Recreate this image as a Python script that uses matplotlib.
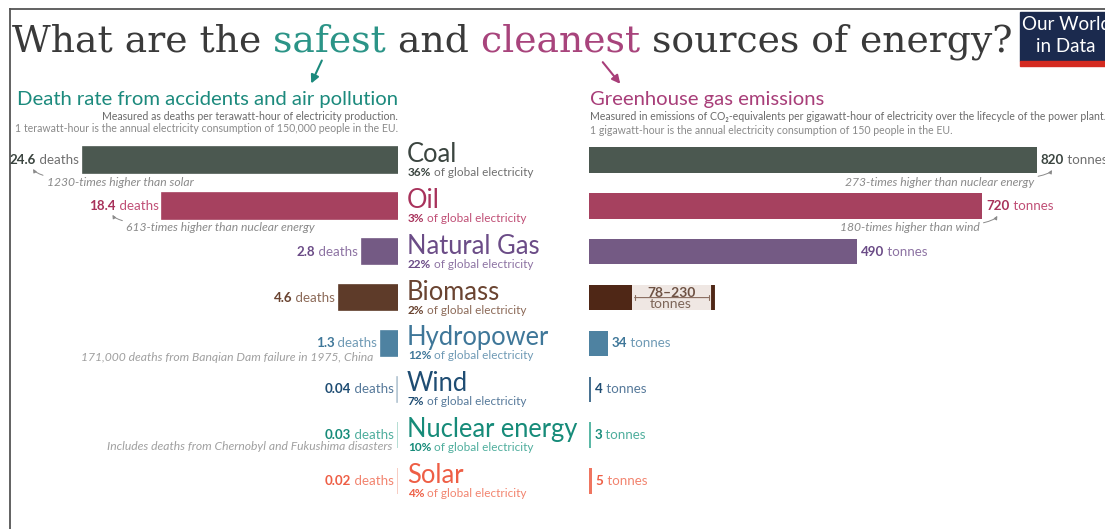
import matplotlib
matplotlib.use("Agg")
import matplotlib.pyplot as plt
import matplotlib.transforms as mtransforms
from matplotlib.patches import Rectangle

plt.rcParams['font.family'] = ['Lato', 'DejaVu Sans']

W, H = 1105, 529

# Energy sources, top to bottom
sources = ["Coal", "Oil", "Natural Gas", "Biomass", "Hydropower", "Wind", "Nuclear energy", "Solar"]
# Deaths per TWh of electricity
death_rates = [24.6, 18.4, 2.8, 4.6, 1.3, 0.04, 0.03, 0.02]
# Lifecycle emissions, tonnes CO2-eq per GWh (biomass shown as a range)
emissions = [820, 720, 490, 78, 34, 4, 3, 5]
biomass_range = [78, 230]
share_of_electricity = ["36%", "3%", "22%", "2%", "12%", "7%", "10%", "4%"]

death_notes = {0: "1230-times higher than solar",
               1: "613-times higher than nuclear energy",
               4: "171,000 deaths from Banqian Dam failure in 1975, China",
               6: "Includes deaths from Chernobyl and Fukushima disasters"}
note_offsets = {4: (-8, 14), 6: (-5, 11)}
emission_notes = {0: "273-times higher than nuclear energy",
                  1: "180-times higher than wind"}

# colours: bar fill, label text, lighter tint for unit words
bar_left = ["#4b5850", "#a6415f", "#745a84", "#5e3b29", "#4e82a1", "#b9c9d5", "#a8d8cc", "#f6c3b8"]
bar_right = ["#4b5850", "#a6415f", "#745a84", "#4f2716", "#4e82a1", "#4a7392", "#5bb8a6", "#ef7560"]
text_dark = ["#3b4540", "#a8325b", "#6b4c87", "#6a4431", "#3f7799", "#1f4d73", "#168b79", "#ee5e45"]
text_light = ["#6f6f6f", "#c04f76", "#8d73a3", "#8c6a58", "#6f9ab5", "#56799a", "#4fae9d", "#f2846f"]

teal = "#1c8a7d"
magenta = "#a83e79"
grey = "#8a8a8a"


def px(ax, dx=0, dy=0):
    # data coordinates shifted by a number of pixels (dy positive = down)
    return ax.transData + mtransforms.Affine2D().translate(dx, -dy)


fig = plt.figure(figsize=(W / 100, H / 100), dpi=100)
fig.patch.set_facecolor("white")

canvas = fig.add_axes([0, 0, 1, 1])
canvas.set_xlim(0, W)
canvas.set_ylim(H, 0)
canvas.axis("off")

# row centres fall at 160 px + 45.86 px per row
row_px = 45.86
ylim = ((H - 160) / row_px, -160 / row_px)
bar_h = 25.5 / row_px
rows = list(range(len(sources)))

# left panel: deaths, bars grow leftwards from x=398 px, 12.8 px per death
ax_l = fig.add_axes([10 / W, 0, (398 - 10) / W, 1])
ax_l.set_xlim((398 - 10) / 12.8, 0)
ax_l.set_ylim(*ylim)
ax_l.axis("off")
ax_l.patch.set_alpha(0)

# right panel: emissions, bars grow rightwards from x=589 px, 0.5463 px per tonne
ax_r = fig.add_axes([589 / W, 0, (W - 589) / W, 1])
ax_r.set_xlim(0, (W - 589) / 0.5463)
ax_r.set_ylim(*ylim)
ax_r.axis("off")
ax_r.patch.set_alpha(0)

ax_l.barh(rows, death_rates, height=bar_h, color=bar_left, edgecolor=bar_left, linewidth=1.2)

# biomass range box
lo, hi = biomass_range
ax_r.barh(3, hi - lo, left=lo, height=bar_h, color="#efe7e3", linewidth=0)
ax_r.plot([hi, hi], [3 - bar_h / 2, 3 + bar_h / 2], color="#4f2716", lw=2.8,
          solid_capstyle="butt", transform=px(ax_r, -2, 0))
ax_r.barh(rows, emissions, height=bar_h, color=bar_right, linewidth=0)
ax_r.annotate("", xy=(hi, 3), xytext=(lo, 3), xycoords=px(ax_r, -6, 0), textcoords=px(ax_r, 3, 0),
              arrowprops=dict(arrowstyle="|-|", color="#8a6e60", lw=0.8, mutation_scale=2,
                              shrinkA=0, shrinkB=0))
mid = (lo + hi) / 2
ax_r.text(mid, 3, f"{lo}–{hi}", transform=px(ax_r, -2, 1), ha="center", va="bottom",
          fontsize=10, fontweight="bold", color="#6e5244")
ax_r.text(mid, 3, "tonnes", transform=px(ax_r, -2, 0), ha="center", va="top",
          fontsize=10, color="#7d6558")

for i, name in enumerate(sources):
    v = death_rates[i]
    unit = ax_l.text(v, i, " deaths", transform=px(ax_l, -4, 0), ha="right", va="center",
                     fontsize=9.6, color=text_light[i])
    ax_l.annotate(f"{v:g}", xy=(0, 0.5), xycoords=unit, ha="right", va="center",
                  fontsize=9.6, fontweight="bold", color=text_dark[i])

    # source name and share of electricity between the panels
    ax_l.text(0, i, name, transform=px(ax_l, 9, 2), ha="left", va="baseline",
              fontsize=18.4, color=text_dark[i])
    pct = ax_l.text(0, i, share_of_electricity[i], transform=px(ax_l, 10, 16), ha="left",
                    va="baseline", fontsize=8.5, fontweight="bold", color=text_dark[i])
    ax_l.annotate(" of global electricity", xy=(1, 0), xycoords=pct, ha="left", va="bottom",
                  fontsize=8.5, color=text_light[i])

    if i != 3:
        e = emissions[i]
        num = ax_r.text(e, i, f"{e}", transform=px(ax_r, 4, 0), ha="left", va="center",
                        fontsize=9.6, fontweight="bold", color=text_dark[i])
        ax_r.annotate(" tonnes", xy=(1, 0.5), xycoords=num, ha="left", va="center",
                      fontsize=9.6, color=text_light[i])

# notes under the bars
for i, note in death_notes.items():
    v = death_rates[i]
    if i < 2:
        ax_l.annotate(note, xy=(v, i), xycoords=px(ax_l, -50, 9), xytext=(v, i),
                      textcoords=px(ax_l, -36, 22), ha="left", va="center", fontsize=8.7,
                      style="italic", color=grey,
                      arrowprops=dict(arrowstyle="-|>", color=grey, lw=0.7, mutation_scale=5,
                                      shrinkA=1, shrinkB=0,
                                      connectionstyle="angle3,angleA=0,angleB=-60"))
    else:
        dx, dy = note_offsets[i]
        ax_l.text(v, i, note, transform=px(ax_l, dx, dy), ha="right", va="center",
                  fontsize=8.7, style="italic", color="#a0a0a0")

for i, note in emission_notes.items():
    e = emissions[i]
    ax_r.annotate(note, xy=(e, i), xycoords=px(ax_r, 15, 10), xytext=(e, i),
                  textcoords=px(ax_r, -3, 22), ha="right", va="center", fontsize=8.7,
                  style="italic", color=grey,
                  arrowprops=dict(arrowstyle="-|>", color=grey, lw=0.7, mutation_scale=5,
                                  shrinkA=1, shrinkB=0,
                                  connectionstyle="angle3,angleA=0,angleB=60"))

# headline
title_parts = [("What are the", "#3a3a3a"), (" safest", "#2b9487"), (" and", "#3a3a3a"),
               (" cleanest", "#a8447c"), (" sources of energy?", "#3a3a3a")]
prev = None
for txt, col in title_parts:
    kw = dict(fontsize=27.2, color=col, family="DejaVu Serif")
    if prev is None:
        prev = canvas.text(12, 52, txt, ha="left", va="baseline", **kw)
    else:
        prev = canvas.annotate(txt, xy=(1, 0), xycoords=prev, ha="left", va="bottom", **kw)

canvas.annotate("", xy=(310, 86), xytext=(323, 58),
                arrowprops=dict(arrowstyle="-|>", color=teal, lw=1.5, mutation_scale=12))
canvas.annotate("", xy=(622, 86), xytext=(601, 60),
                arrowprops=dict(arrowstyle="-|>", color=magenta, lw=1.5, mutation_scale=12))

# panel headings
canvas.text(398, 100, "Death rate from accidents and air pollution", ha="right", va="center",
            fontsize=14.6, color=teal)
canvas.text(398, 116, "Measured as deaths per terawatt-hour of electricity production.",
            ha="right", va="center", fontsize=7.6, color="#6a6a6a")
canvas.text(398, 129, "1 terawatt-hour is the annual electricity consumption of 150,000 people in the EU.",
            ha="right", va="center", fontsize=7.6, color="#8a8a8a")

canvas.text(590, 100, "Greenhouse gas emissions", ha="left", va="center",
            fontsize=14.6, color=magenta)
canvas.text(590, 117, "Measured in emissions of CO₂-equivalents per gigawatt-hour of electricity over the lifecycle of the power plant.",
            ha="left", va="center", fontsize=7.6, color="#6a6a6a")
canvas.text(590, 130, "1 gigawatt-hour is the annual electricity consumption of 150 people in the EU.",
            ha="left", va="center", fontsize=7.6, color="#8a8a8a")

# logo
canvas.add_patch(Rectangle((1020, 12), 90, 49, color="#1b2a4e"))
canvas.add_patch(Rectangle((1020, 61), 90, 5, color="#d42a20"))
canvas.text(1022, 25, "Our World", ha="left", va="center", fontsize=13.5, color="white")
canvas.text(1066, 46, "in Data", ha="center", va="center", fontsize=13.5, color="white")

# frame
canvas.plot([10, W], [9, 9], color="#555555", lw=1.3)
canvas.plot([10, 10], [9, H], color="#555555", lw=1.3)

fig.savefig("out.png", dpi=100)
